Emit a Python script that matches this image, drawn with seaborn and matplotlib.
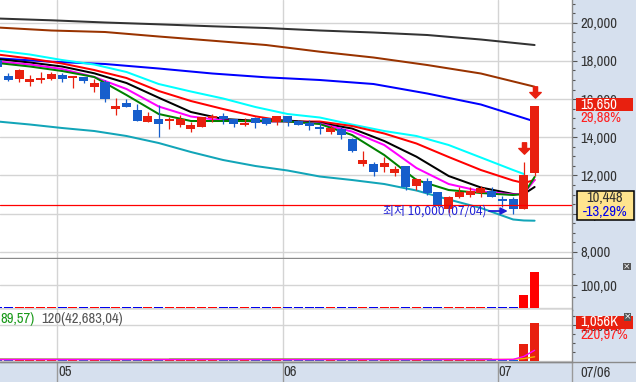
import matplotlib
matplotlib.use("Agg")
import numpy as np
import pandas as pd
import matplotlib.pyplot as plt
import seaborn as sns
from matplotlib.path import Path
from matplotlib.patches import Rectangle
from matplotlib.ticker import MultipleLocator, FixedLocator, FuncFormatter

sns.set_style("white")
NARROW = ["Archivo Narrow", "Liberation Sans Narrow", "DejaVu Sans"]
CJK = ["Noto Sans CJK KR", "DejaVu Sans"]
plt.rcParams["font.family"] = NARROW

# ---------------- data ----------------
opens  = [18050, 17210, 17040, 16910, 17020, 17040, 17260, 17130, 17140, 16650,
          16910, 15500, 15810, 15430, 14820, 14960, 14900, 14640, 14450, 14560,
          15060, 15120, 14940, 14670, 15030, 14990, 14790, 15120, 14870, 14730,
          14520, 14260, 14420, 13900, 12600, 12600, 12460, 12110, 12500, 11450,
          11730, 11150, 10230, 10890, 10980, 11070, 11190, 10730, 10750, 10250,
          12150]
closes = [17680, 17000, 17520, 17050, 17040, 17310, 17040, 17150, 16960, 16860,
          16000, 15640, 15600, 14870, 15120, 14680, 14920, 14940, 14640, 15050,
          15090, 14940, 14680, 14690, 14760, 14700, 15120, 14820, 14640, 14610,
          14430, 14500, 14120, 13300, 12810, 12200, 12640, 12340, 11380, 11800,
          11070, 10420, 10890, 11150, 11190, 11330, 10860, 10710, 10250, 12050,
          15650]
highs  = [18150, 17350, 17590, 17260, 17430, 17400, 17380, 17210, 17160, 17040,
          17000, 16040, 15990, 15740, 15340, 15690, 15080, 15170, 14820, 15060,
          15220, 15260, 14960, 14990, 15080, 15030, 15140, 15140, 14890, 14910,
          14730, 14640, 14560, 13960, 13300, 12720, 12980, 12500, 12500, 11850,
          11850, 11150, 10940, 11410, 11380, 11450, 11380, 10940, 10860, 12720,
          15650]
lows   = [17580, 16970, 16910, 16690, 16860, 17010, 16910, 16600, 16830, 16390,
          15860, 15170, 15600, 14870, 14820, 14000, 14420, 14560, 14290, 14540,
          14820, 14700, 14560, 14590, 14500, 14640, 14640, 14610, 14620, 14380,
          14170, 14170, 13910, 13250, 12500, 11990, 12200, 11990, 11240, 11240,
          10980, 10370, 10020, 10810, 10860, 10860, 10860, 10330, 10000, 10250,
          11950]

# moving averages (read at a subset of candle indices)
ma_idx   = [0, 3, 6, 9, 12, 15, 18, 21, 24, 27, 30, 33, 36, 39, 42, 45, 48, 49, 50]
ma5      = [17890, 17707, 17471, 17157, 16214, 15220, 14853, 14853, 14853, 14827,
            14696, 14120, 13073, 11764, 11240, 11083, 10978, 11031, 11921]
ma10     = [17968, 17811, 17576, 17157, 16529, 15612, 15089, 14879, 14827, 14827,
            14722, 14303, 13596, 12392, 11554, 11172, 11005, 11057, 11764]
ma20     = [18099, 17916, 17707, 17351, 16843, 16073, 15324, 14958, 14869, 14879,
            14748, 14460, 13806, 12984, 11973, 11371, 11031, 11031, 11397]
ma40     = [18335, 18126, 17864, 17523, 17105, 16424, 15900, 15481, 15099, 14827,
            14827, 14591, 14199, 13675, 12968, 12287, 11738, 11607, 11764]
cyan_idx = [0, 3, 6, 9, 12, 15, 18, 21, 24, 27, 30, 33, 36, 39, 42, 45, 48, 49]
ma60     = [18544, 18335, 18047, 17811, 17419, 16790, 16398, 16031, 15586, 15220,
            15036, 14670, 14329, 14068, 13596, 12942, 12287, 12078]
env_low  = [14827, 14670, 14487, 14329, 14068, 13701, 13230, 12811, 12497, 12261,
            11947, 11764, 11554, 11214, 10743, 10298, 9697, 9644, 9633]
long_idx = [0, 5, 10, 15, 20, 25, 30, 35, 40, 45, 50]
ma120    = [18136, 17958, 17838, 17602, 17340, 17141, 17000, 16790, 16293, 15717, 14830]
ma240    = [19749, 19592, 19513, 19278, 19058, 18832, 18482, 18178, 17785, 17340, 16649]
ma480    = [20220, 20126, 20011, 19916, 19812, 19723, 19592, 19487, 19356, 19120, 18832]

ref_price = 10448
low_date = "07/04"
signal_idx = [49, 50]

month_start = [6, 27, 47]
month_labels = ["05", "06", "07"]
cursor_date = "07/06"

# trading value (억원) and volume (K)
trade_value = [7, 7, 7, 4, 4, 4, 4, 4, 4, 4, 7, 7, 4, 7, 4, 7, 4, 4, 4, 4,
               4, 4, 7, 4, 7, 4, 4, 4, 4, 4, 4, 4, 7, 4, 7, 7, 7, 4, 7, 4,
               4, 7, 7, 4, 4, 4, 4, 4, 4, 57, 160]
volume = [50, 50, 50, 40, 40, 40, 40, 40, 40, 40, 50, 50, 40, 50, 40, 50, 40, 40, 40, 40,
          40, 40, 50, 40, 50, 40, 40, 40, 40, 40, 40, 40, 50, 40, 50, 50, 50, 40, 50, 40,
          40, 50, 50, 40, 40, 40, 40, 40, 40, 477.9, 1056]
vma_idx   = [0, 16, 46, 47, 48, 49, 50]
vma5      = [40, 40, 40, 42, 45, 128, 300]
vma20     = [44, 44, 45, 46, 46, 66, 118]
vma60_idx = [16, 46]
vma60     = [48, 50]
vma120_idx = [0, 16, 46]
vma120    = [55, 47, 43]
legend_60 = "89,57)"
legend_120 = "120(42,683,04)"

# ---------------- styling ----------------
W, H = 636, 382
RED, BLUE = "#e8200f", "#165ecc"
GRID = "#d4d4d4"
AXBG = "#d6e0ee"
SPINE = "#8a8a8a"
DX = 10.74          # pixels per candle
X0 = -2.4           # pixel position of candle 0
FS = 10.5

N = len(closes)
idx = np.arange(N)
o = np.array(opens, float); c = np.array(closes, float)
hi = np.array(highs, float); lo = np.array(lows, float)
up = c >= o
cols = np.where(up, RED, BLUE)

fig = plt.figure(figsize=(W / 100, H / 100), dpi=100)
fig.patch.set_facecolor(AXBG)


def rect(x0, y0, x1, y1):
    return [x0 / W, 1 - y1 / H, (x1 - x0) / W, (y1 - y0) / H]


ax = fig.add_axes(rect(0, 0, 572, 258))
ax2 = fig.add_axes(rect(0, 259, 572, 310))
ax3 = fig.add_axes(rect(0, 310, 572, 362))
xlim = (-X0 / DX, (572 - X0) / DX)

for a in (ax, ax2, ax3):
    a.set_facecolor("white")
    a.set_xlim(*xlim)
    a.set_xticks([])
    for s in ("top", "left"):
        a.spines[s].set_visible(False)
    for s in ("bottom", "right"):
        a.spines[s].set_color(SPINE)
        a.spines[s].set_linewidth(1)
    a.yaxis.tick_right()
    for m in month_start:
        a.axvline(m - 0.45, color=GRID, lw=1, zorder=0)
    a.tick_params(axis="y", which="major", direction="out", length=3.6, width=0.8,
                  color="#555555", labelsize=FS, labelcolor="#333333", pad=2.5)
    a.tick_params(axis="y", which="minor", direction="out", length=1.8, width=0.8,
                  color="#555555")

# ---- main price panel ----
ax.set_ylim(7680, 21189)
ax.set_yticks(np.arange(8000, 20001, 2000))
ax.yaxis.set_minor_locator(MultipleLocator(500))
ax.yaxis.set_major_formatter(FuncFormatter(lambda v, p: f"{int(v):,}"))
for v in np.arange(8000, 20001, 2000):
    ax.axhline(v, color=GRID, lw=1, zorder=0)


def sline(a, xs, ys, color, lw=1.45, z=3):
    sns.lineplot(x=xs, y=ys, ax=a, color=color, linewidth=lw, zorder=z,
                 legend=False, errorbar=None, sort=False)


sline(ax, ma_idx, env_low, "#12a5b8")
sline(ax, long_idx, ma480, "#333333")
sline(ax, long_idx, ma240, "#993300")
sline(ax, long_idx, ma120, "#0000ff")
sline(ax, cyan_idx, ma60, "#00ffff")
sline(ax, ma_idx, ma40, "#ff0000")
sline(ax, ma_idx, ma20, "#000000")
sline(ax, ma_idx, ma10, "#ff00ff")
sline(ax, ma_idx, ma5, "#008000")

# candles
ax.vlines(idx, lo, hi, colors=cols, lw=0.9, zorder=5)
minh = 105
diff = np.abs(c - o)
mid = (o + c) / 2
bh = np.maximum(diff, minh)
bb = np.where(diff < minh, mid - minh / 2, np.minimum(o, c))
ax.bar(idx, bh, bottom=bb, width=0.84, color=cols, linewidth=0, zorder=6)

# reference price line
ax.axhline(ref_price, color="#ff0000", lw=0.9, zorder=7)

# signal arrows
av = [(-0.18, 0.5), (0.18, 0.5), (0.18, 0.0), (0.5, 0.0), (0.0, -0.5),
      (-0.5, 0.0), (-0.18, 0.0), (-0.18, 0.5)]
arrow_marker = Path(av, [Path.MOVETO] + [Path.LINETO] * 6 + [Path.CLOSEPOLY])
ax.plot(signal_idx, hi[signal_idx] + 740, ls="", marker=arrow_marker, ms=8.2,
        color=RED, mec=RED, zorder=8)

# lowest price annotation
li = int(np.argmin(lo))
tip = (li - 0.5, lo[li] + 140)
ax.annotate("", xy=tip, xytext=(tip[0] - 1.75, tip[1]),
            arrowprops=dict(arrowstyle="-|>", color="#1f1fd6", lw=1.3,
                            mutation_scale=10, shrinkA=0, shrinkB=0), zorder=8)
ax.text(tip[0] - 1.95, tip[1], f"최저 {int(lo[li]):,} ({low_date})", ha="right",
        va="center", color="#1f1fd6", fontsize=8.6, family=CJK, zorder=8)

# ---- trading value panel ----
tv_cols = np.where(up, "#ff0000", "#0000ee")
ax2.bar(idx, trade_value, width=0.84, color=tv_cols, linewidth=0, zorder=3)
ax2.set_ylim(-7.5, 216)
ax2.set_yticks([100])
ax2.yaxis.set_minor_locator(FixedLocator([50, 150]))
ax2.yaxis.set_major_formatter(FuncFormatter(lambda v, p: f"{v:.2f}".replace(".", ",")))
ax2.axhline(100, color=GRID, lw=1, zorder=0)
ax2.axhline(0, color=GRID, lw=1, zorder=0)

# ---- volume panel ----
ax3.bar(idx, volume, width=0.84, color=cols, linewidth=0, zorder=3)
ax3.set_ylim(-28, 1428)
ax3.set_yticks([1000])
ax3.yaxis.set_minor_locator(FixedLocator([250, 500, 750, 1250]))
ax3.yaxis.set_major_formatter(FuncFormatter(lambda v, p: f"{int(v):,}K"))
ax3.axhline(1000, color=GRID, lw=1, zorder=0)
ax3.axhline(0, color=GRID, lw=1, zorder=0)
sline(ax3, vma120_idx, vma120, "#777777", lw=1.0, z=4)
sline(ax3, vma60_idx, vma60, "#2a9a2a", lw=1.0, z=4)
sline(ax3, vma_idx, vma20, "#f0b400", lw=1.0, z=4)
sline(ax3, vma_idx, vma5, "#ff00ff", lw=1.0, z=4)
for a in (ax, ax2, ax3):
    a.set_xlabel(""); a.set_ylabel("")
    a.set_xlim(*xlim)

# month labels
for m, lab in zip(month_start, month_labels):
    ax3.text(m - 0.38, -0.19, lab, transform=ax3.get_xaxis_transform(), ha="left",
             va="center", fontsize=FS, color="#333333", clip_on=False)

# ---------------- overlay (pixel coords) ----------------
ov = fig.add_axes([0, 0, 1, 1], zorder=20)
ov.set_xlim(0, W); ov.set_ylim(H, 0); ov.axis("off")
ov.patch.set_alpha(0)


def ypix(a, v):
    return H - a.transData.transform((0, v))[1]


def xpix(a, v):
    return a.transData.transform((v, 0))[0]


for m in month_start:
    xp = xpix(ax3, m - 0.45)
    ov.plot([xp, xp], [362, 382], color="#9a9a9a", lw=1)
ov.plot([572, 572], [362, 382], color="#9a9a9a", lw=1)
ov.plot([0, W], [362, 362], color=SPINE, lw=1)
ov.text(580, 372.5, cursor_date, ha="left", va="center", fontsize=FS, color="#333333")

# close price box
yc = ypix(ax, c[-1]) - 1.2
ov.add_patch(Rectangle((576, yc - 6.2), 57, 12.4, color="#e8200f", lw=0))
ov.text(580, yc, f"{int(c[-1]):,}", ha="left", va="center", fontsize=FS, color="white")
pct = (c[-1] / c[-2] - 1) * 100
ov.text(580, yc + 13, f"{pct:.2f}%".replace(".", ","), ha="left", va="center",
        fontsize=FS, color="#ff2020")

# reference price box
yr = ypix(ax, ref_price)
ov.add_patch(Rectangle((576.5, yr - 14), 57, 28.5, facecolor="#ffe48e",
                       edgecolor="black", lw=1.1))
rp = (ref_price / c[-2] - 1) * 100
ov.text(605, yr - 7, f"{ref_price:,}", ha="center", va="center", fontsize=FS,
        color="#333333")
ov.text(605, yr + 7, f"{rp:.2f}%".replace(".", ","), ha="center", va="center",
        fontsize=FS, color="#0000ee")

# volume box
yv = ypix(ax3, volume[-1]) - 1
ov.add_patch(Rectangle((576, yv - 6.3), 57, 12.6, color="#e8200f", lw=0))
ov.text(580, yv, f"{volume[-1] / 1000:,.3f}K".replace(".", ","), ha="left",
        va="center", fontsize=FS, color="white")
vp = volume[-1] / volume[-2] * 100
ov.text(580, yv + 13, f"{vp:.2f}%".replace(".", ","), ha="left", va="center",
        fontsize=FS, color="#ff2020")

# close icons
for (xi, yi) in [(627, 266.5), (627.5, 317)]:
    ov.add_patch(Rectangle((xi - 3.8, yi - 3.8), 7.6, 7.6, color="#555555", lw=0))
    ov.text(xi, yi, "×", ha="center", va="center", fontsize=6.5, color="white",
            family=["DejaVu Sans"])

# volume legend
ov.text(0, 319, legend_60, ha="left", va="center", fontsize=FS, color="#1a9a1a")
ov.text(41, 319, legend_120, ha="left", va="center", fontsize=FS, color="#555555")

fig.savefig("out.png", dpi=100, facecolor=fig.get_facecolor())
